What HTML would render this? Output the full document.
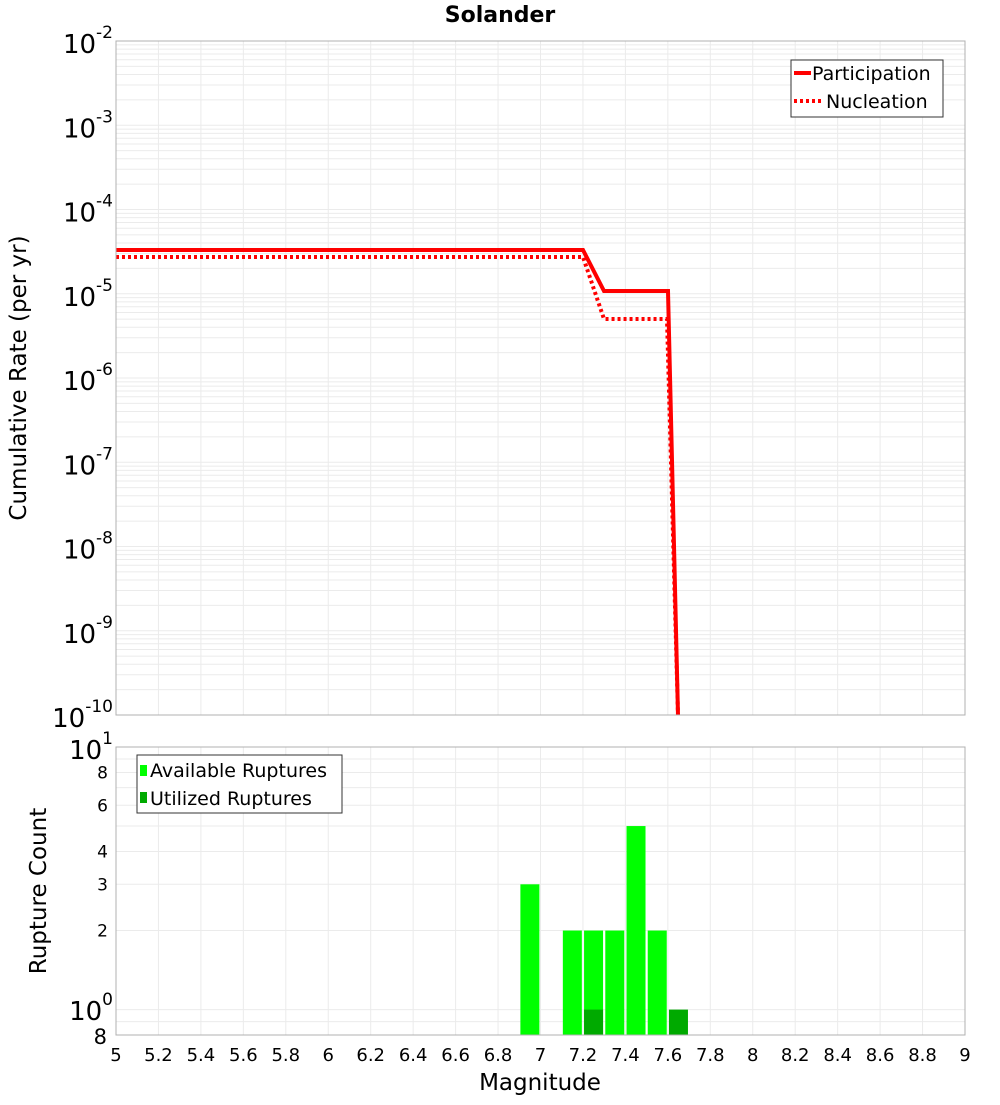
<!DOCTYPE html>
<html><head><meta charset="utf-8"><style>
body{margin:0;background:#fff}
text{font-family:"DejaVu Sans","Liberation Sans",sans-serif}
</style></head><body>
<svg id="s" width="1000" height="1100" xmlns="http://www.w3.org/2000/svg">
<rect width="1000" height="1100" fill="#fff"/>
<g id="grid"></g>
<text x="500" y="22" text-anchor="middle" font-size="22" font-weight="bold">Solander</text>
<polyline points="116,250 583,250 604,291 668,291 678,715" fill="none" stroke="#f00" stroke-width="4"/>
<polyline points="116,257 583,257 604,319 667,319 678,715" fill="none" stroke="#f00" stroke-width="4" stroke-dasharray="3,3"/>
<g id="bars"></g>
<rect x="116" y="41" width="849" height="674" fill="none" stroke="#b0b0b0"/>
<rect x="116" y="747" width="849" height="288" fill="none" stroke="#b0b0b0"/>
<rect x="791" y="60" width="152" height="57" fill="#fff" stroke="#333"/>
<line x1="794" y1="73" x2="811" y2="73" stroke="#f00" stroke-width="4"/>
<text x="812" y="80" font-size="19">Participation</text>
<line x1="794" y1="101" x2="822" y2="101" stroke="#f00" stroke-width="4" stroke-dasharray="3,3"/>
<text x="826" y="108" font-size="19">Nucleation</text>
<rect x="137" y="755" width="205" height="58" fill="#fff" stroke="#333"/>
<rect x="140" y="765" width="7" height="11" fill="#00ff00"/>
<text x="150" y="777" font-size="19">Available Ruptures</text>
<rect x="140" y="792" width="7" height="11" fill="#00aa00"/>
<text x="150" y="805" font-size="19">Utilized Ruptures</text>
<text x="540" y="1090" text-anchor="middle" font-size="23">Magnitude</text>
<text transform="translate(26,378) rotate(-90)" text-anchor="middle" font-size="23">Cumulative Rate (per yr)</text>
<text transform="translate(46,891) rotate(-90)" text-anchor="middle" font-size="23">Rupture Count</text>
<g id="labels"></g>
</svg>
<script>
var ns="http://www.w3.org/2000/svg";
function el(p,t,a,txt){var e=document.createElementNS(ns,t);for(var k in a)e.setAttribute(k,a[k]);if(txt!==undefined)e.textContent=txt;document.getElementById(p).appendChild(e);return e;}
var X=function(m){return 116+(m-5)*212.25;};
for(var i=0;i<=20;i++){var x=X(5+i*0.2);
 el('grid','line',{x1:x,y1:41,x2:x,y2:715,stroke:'#ebebeb'});
 el('grid','line',{x1:x,y1:747,x2:x,y2:1035,stroke:'#ebebeb'});
 var v=(5+i*0.2);var s=(Math.round(v*10)/10).toString();
 el('labels','text',{x:x,y:1061,'text-anchor':'middle','font-size':18},s);
}
var YT=function(l){return 41+(-2-l)*84.25;};
for(var d=-10;d<-2;d++){for(var k=1;k<10;k++){var y=YT(d+Math.log10(k));
 el('grid','line',{x1:116,y1:y,x2:965,y2:y,stroke:'#ebebeb'});}}
function pw(x,y,b,e,fs){var t=el('labels','text',{x:x,y:y,'text-anchor':'end','font-size':fs},b);var sp=document.createElementNS(ns,'tspan');sp.setAttribute('dy','-15');sp.setAttribute('font-size','17');sp.textContent=e;t.appendChild(sp);}
for(var d=-2;d>=-10;d--){pw(113,YT(d)+12,'10',String(d),26);}
var YB=function(v){return 747+(1-Math.log10(v))*262.6;};
[0.9,1,2,3,4,5,6,7,8,9].forEach(function(v){var y=YB(v);el('grid','line',{x1:116,y1:y,x2:965,y2:y,stroke:'#ebebeb'});});
[[8],[6],[4],[3],[2]].forEach(function(a){el('labels','text',{x:108,y:YB(a[0])+6,'text-anchor':'end','font-size':17},a[0]);});
pw(113,759,'10','1',26);
pw(113,1020,'10','0',26);
el('labels','text',{x:107,y:1044,'text-anchor':'end','font-size':21},'8');
[[6.95,3,0],[7.15,2,0],[7.25,2,1],[7.35,2,0],[7.45,5,0],[7.55,2,0],[7.65,0,1]].forEach(function(b){
 var x=X(b[0])-9.5;
 if(b[1])el('bars','rect',{x:x,y:YB(b[1]),width:19,height:1035-YB(b[1]),fill:'#00ff00'});
 if(b[2])el('bars','rect',{x:x,y:YB(b[2]),width:19,height:1035-YB(b[2]),fill:'#00aa00'});
});
</script>
</body></html>
